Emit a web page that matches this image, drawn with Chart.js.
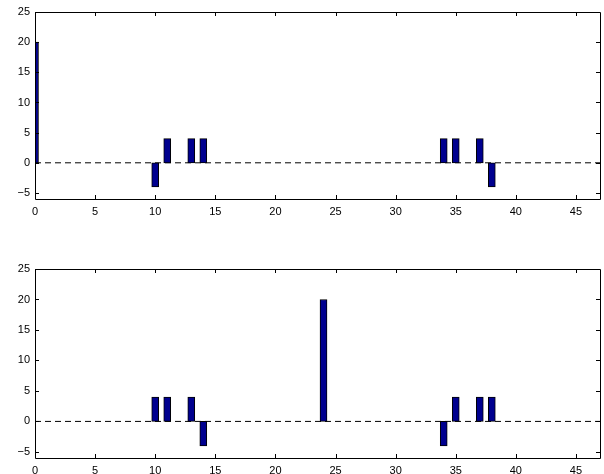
<!DOCTYPE html>
<html>
<head>
<meta charset="utf-8">
<script src="https://cdn.jsdelivr.net/npm/chart.js@4.4.1/dist/chart.umd.min.js"></script>
<style>
  html, body { margin: 0; padding: 0; background: #fff; }
  #wrap { position: relative; width: 604px; height: 474px; }
  .plot { position: absolute; left: 0; width: 604px; height: 237px; }
</style>
</head>
<body>
<div id="wrap">
  <div class="plot" style="top:0"><canvas id="top"></canvas></div>
  <div class="plot" style="top:237px"><canvas id="bottom"></canvas></div>
</div>
<script>
// data
const topX = [0, 10, 11, 13, 14, 34, 35, 37, 38];
const topY = [20, -4, 4, 4, 4, 4, 4, 4, -4];
const bottomX = [10, 11, 13, 14, 24, 34, 35, 37, 38];
const bottomY = [4, 4, 4, -4, 20, -4, 4, 4, 4];
const xTicks = [0, 5, 10, 15, 20, 25, 30, 35, 40, 45];
const yTicks = [-5, 0, 5, 10, 15, 20, 25];
const xRange = [0, 47];
const yRange = [-6, 25];

// box + inward ticks, matlab style
const boxPlugin = {
  id: 'box',
  afterDraw(chart) {
    const c = chart.ctx, a = chart.chartArea;
    const xs = chart.scales.x, ys = chart.scales.y;
    c.save();
    c.strokeStyle = '#000';
    c.lineWidth = 1;
    c.beginPath();
    c.rect(Math.round(a.left) + 0.5, Math.round(a.top) + 0.5,
      Math.round(a.right - a.left), Math.round(a.bottom - a.top));
    xTicks.forEach(v => {
      const px = Math.round(xs.getPixelForValue(v)) + 0.5;
      c.moveTo(px, a.bottom); c.lineTo(px, a.bottom - 4);
      c.moveTo(px, a.top); c.lineTo(px, a.top + 4);
    });
    yTicks.forEach(v => {
      const py = Math.round(ys.getPixelForValue(v)) + 0.5;
      c.moveTo(a.left, py); c.lineTo(a.left + 4, py);
      c.moveTo(a.right, py); c.lineTo(a.right - 4, py);
    });
    c.stroke();
    c.restore();
  }
};

function makeChart(id, xs, ys, padTop, xAxisH) {
  const font = { family: 'Liberation Sans, Arial, sans-serif', size: 11 };
  return new Chart(document.getElementById(id), {
    type: 'bar',
    data: {
      datasets: [{
        type: 'bar',
        data: xs.map((x, i) => ({ x: x, y: ys[i] })),
        backgroundColor: '#00008f',
        borderColor: '#000',
        borderWidth: 1,
        borderSkipped: false,
        barThickness: 7,
        clip: 0,
        order: 1
      }, {
        type: 'line',
        data: [{ x: xRange[0], y: 0 }, { x: xRange[1], y: 0 }],
        borderColor: '#000',
        borderWidth: 1,
        borderDash: [6, 4],
        pointRadius: 0,
        clip: 0,
        order: 2
      }]
    },
    options: {
      responsive: true,
      maintainAspectRatio: false,
      animation: false,
      layout: { padding: { top: padTop, right: 4, left: 0, bottom: 0 } },
      plugins: { legend: { display: false }, tooltip: { enabled: false } },
      scales: {
        x: {
          type: 'linear',
          offset: false,
          min: xRange[0], max: xRange[1],
          afterBuildTicks: s => { s.ticks = xTicks.map(v => ({ value: v })); },
          afterFit: s => { s.height = xAxisH; },
          grid: { display: false, drawTicks: false, offset: false },
          border: { display: false },
          ticks: { color: '#000', font: font, padding: 6, maxRotation: 0, autoSkip: false }
        },
        y: {
          min: yRange[0], max: yRange[1],
          afterBuildTicks: s => { s.ticks = yTicks.map(v => ({ value: v })); },
          afterFit: s => { s.width = 35; },
          grid: { display: false, drawTicks: false },
          border: { display: false },
          ticks: {
            color: '#000', font: font, padding: 5,
            callback: v => String(v).replace('-', '\u2212')
          }
        }
      }
    },
    plugins: [boxPlugin]
  });
}

makeChart('top', topX, topY, 12, 38);
makeChart('bottom', bottomX, bottomY, 32, 16);
</script>
</body>
</html>
